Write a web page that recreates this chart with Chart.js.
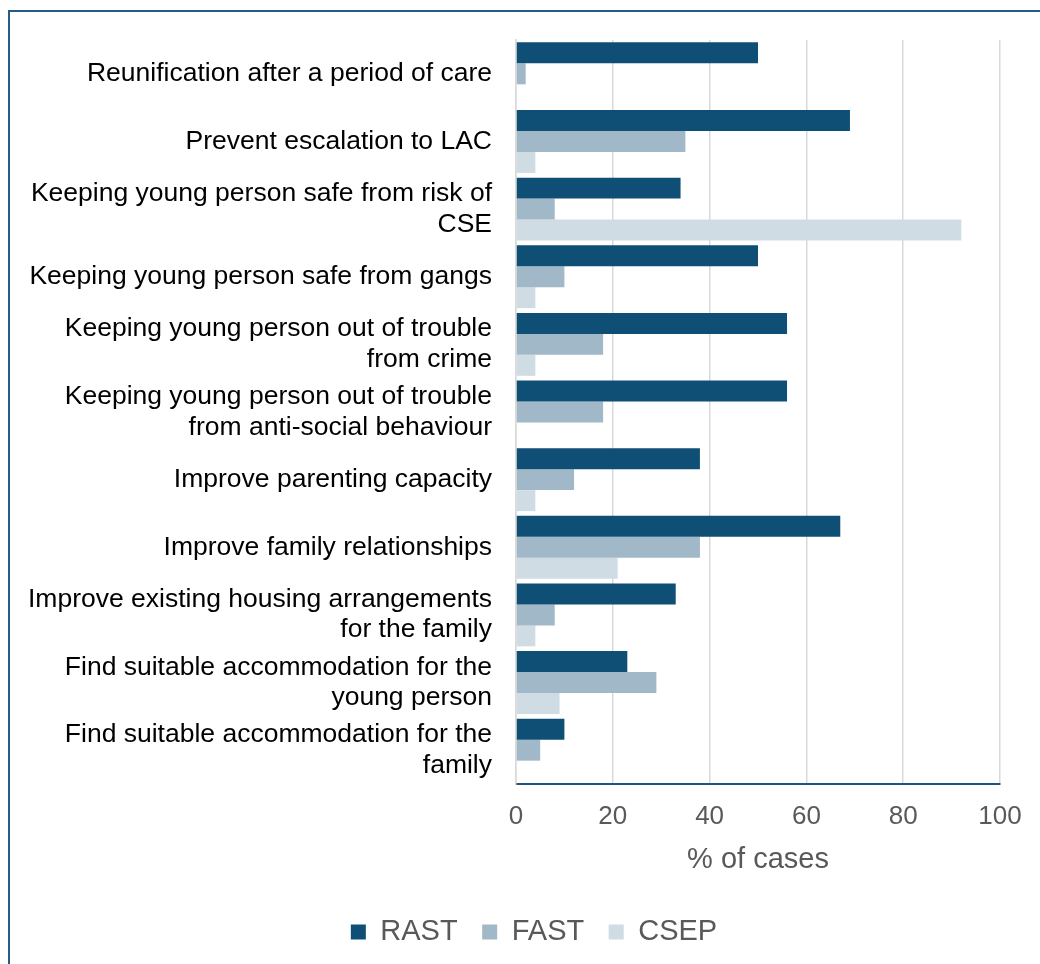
<!DOCTYPE html>
<html>
<head>
<meta charset="utf-8">
<script src="https://cdn.jsdelivr.net/npm/chart.js@4.4.1/dist/chart.umd.min.js"></script>
<style>
  html, body { margin: 0; padding: 0; background: #ffffff; }
  #wrap { position: relative; width: 1040px; height: 964px; overflow: hidden; }
  #frame {
    position: absolute; left: 8px; top: 10px; width: 1040px; height: 964px;
    border-left: 2px solid #245d88; border-top: 2px solid #245d88;
    pointer-events: none;
  }
  canvas { position: absolute; left: 0; top: 0; }
</style>
</head>
<body>
<div id="wrap">
  <canvas id="chart" width="1040" height="964"></canvas>
  <div id="frame"></div>
</div>
<script>
// Support outcomes sought, by service
const categories = [
  "Reunification after a period of care",
  "Prevent escalation to LAC",
  ["Keeping young person safe from risk of", "CSE"],
  "Keeping young person safe from gangs",
  ["Keeping young person out of trouble", "from crime"],
  ["Keeping young person out of trouble", "from anti-social behaviour"],
  "Improve parenting capacity",
  "Improve family relationships",
  ["Improve existing housing arrangements", "for the family"],
  ["Find suitable accommodation for the", "young person"],
  ["Find suitable accommodation for the", "family"]
];
const rast = [50, 69, 34, 50, 56, 56, 38, 67, 33, 23, 10];
const fast = [2, 35, 8, 10, 18, 18, 12, 38, 8, 29, 5];
const csep = [0, 4, 92, 4, 4, 0, 4, 21, 4, 9, 0];
const xTicks = [0, 20, 40, 60, 80, 100];

const FONT = "'Liberation Sans', Arial, sans-serif";

// Nudge the legend row to the right so it sits under the plot area
const legendShift = {
  id: 'legendShift',
  afterLayout(chart) {
    if (chart.legend) {
      chart.legend.left += 34;
      chart.legend.right += 34;
    }
  }
};

new Chart(document.getElementById('chart'), {
  type: 'bar',
  data: {
    labels: categories,
    datasets: [
      { label: 'RAST', data: rast, backgroundColor: '#104f75' },
      { label: 'FAST', data: fast, backgroundColor: '#a1b8c8' },
      { label: 'CSEP', data: csep, backgroundColor: '#d0dce4' }
    ]
  },
  plugins: [legendShift],
  options: {
    indexAxis: 'y',
    responsive: false,
    animation: false,
    devicePixelRatio: 1,
    datasets: { bar: { categoryPercentage: 0.93, barPercentage: 1.0 } },
    layout: { padding: { top: 40, right: 40, bottom: 7.5, left: 0 } },
    plugins: {
      tooltip: { enabled: false },
      legend: {
        position: 'bottom',
        labels: {
          boxWidth: 15, boxHeight: 15, padding: 24.5,
          color: '#595959',
          font: { family: FONT, size: 29 }
        }
      }
    },
    scales: {
      x: {
        min: 0, max: 100,
        afterBuildTicks: (s) => { s.ticks = xTicks.map(v => ({ value: v })); },
        afterFit: (s) => { s.height = 109; },
        grid: { color: '#d9d9d9', lineWidth: 1.5, drawTicks: false },
        border: { color: '#1d5580', width: 2 },
        ticks: { color: '#595959', padding: 17, font: { family: FONT, size: 26 } },
        title: {
          display: true, text: '% of cases', color: '#595959',
          font: { family: FONT, size: 29 }, padding: { top: 8, bottom: 16 }
        }
      },
      y: {
        afterFit: (s) => { s.width = 516; s.paddingTop = 0; s.paddingBottom = 0; },
        grid: { display: false, drawTicks: false },
        border: { color: '#d9d9d9', width: 1.5 },
        ticks: { color: '#000000', padding: 24, font: { family: FONT, size: 26.5, lineHeight: 1.15 } }
      }
    }
  }
});
</script>
</body>
</html>
